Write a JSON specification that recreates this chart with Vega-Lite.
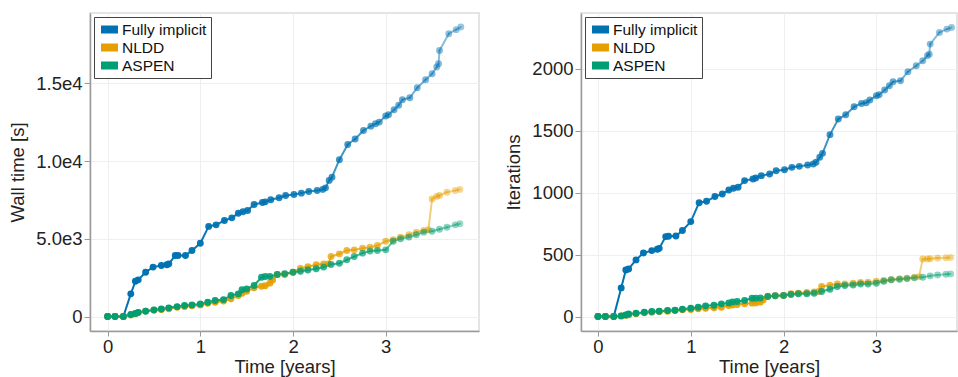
{
  "$schema": "https://vega.github.io/schema/vega-lite/v6.json",
  "autosize": {"type": "pad"},
  "padding": {"left": 7, "top": 12, "right": 0, "bottom": 0},
  "bounds": "flush",
  "spacing": 102,
  "datasets": {
    "runs": [
      {"method":"Fully implicit","t":0,"wall":0,"iter":0},
      {"method":"Fully implicit","t":0.08,"wall":0,"iter":0},
      {"method":"Fully implicit","t":0.17,"wall":0,"iter":0},
      {"method":"Fully implicit","t":0.25,"wall":1460,"iter":231},
      {"method":"Fully implicit","t":0.30,"wall":2270,"iter":376},
      {"method":"Fully implicit","t":0.33,"wall":2360,"iter":384},
      {"method":"Fully implicit","t":0.41,"wall":2850,"iter":457},
      {"method":"Fully implicit","t":0.49,"wall":3180,"iter":513},
      {"method":"Fully implicit","t":0.58,"wall":3280,"iter":532},
      {"method":"Fully implicit","t":0.64,"wall":3330,"iter":543},
      {"method":"Fully implicit","t":0.66,"wall":3390,"iter":550},
      {"method":"Fully implicit","t":0.73,"wall":3930,"iter":645},
      {"method":"Fully implicit","t":0.76,"wall":3930,"iter":648},
      {"method":"Fully implicit","t":0.84,"wall":3930,"iter":650},
      {"method":"Fully implicit","t":0.91,"wall":4250,"iter":694},
      {"method":"Fully implicit","t":1.0,"wall":4720,"iter":766},
      {"method":"Fully implicit","t":1.09,"wall":5800,"iter":919},
      {"method":"Fully implicit","t":1.17,"wall":5900,"iter":930},
      {"method":"Fully implicit","t":1.26,"wall":6180,"iter":968},
      {"method":"Fully implicit","t":1.34,"wall":6350,"iter":989},
      {"method":"Fully implicit","t":1.41,"wall":6650,"iter":1021},
      {"method":"Fully implicit","t":1.46,"wall":6740,"iter":1035},
      {"method":"Fully implicit","t":1.51,"wall":6820,"iter":1043},
      {"method":"Fully implicit","t":1.58,"wall":7210,"iter":1097},
      {"method":"Fully implicit","t":1.67,"wall":7340,"iter":1110},
      {"method":"Fully implicit","t":1.70,"wall":7380,"iter":1118},
      {"method":"Fully implicit","t":1.76,"wall":7510,"iter":1137},
      {"method":"Fully implicit","t":1.85,"wall":7640,"iter":1150},
      {"method":"Fully implicit","t":1.92,"wall":7790,"iter":1177},
      {"method":"Fully implicit","t":2.01,"wall":7850,"iter":1185},
      {"method":"Fully implicit","t":2.09,"wall":7940,"iter":1204},
      {"method":"Fully implicit","t":2.17,"wall":8050,"iter":1212},
      {"method":"Fully implicit","t":2.26,"wall":8110,"iter":1223},
      {"method":"Fully implicit","t":2.32,"wall":8180,"iter":1231},
      {"method":"Fully implicit","t":2.35,"wall":8280,"iter":1245},
      {"method":"Fully implicit","t":2.39,"wall":8760,"iter":1285},
      {"method":"Fully implicit","t":2.42,"wall":8970,"iter":1317},
      {"method":"Fully implicit","t":2.50,"wall":10090,"iter":1468},
      {"method":"Fully implicit","t":2.59,"wall":11070,"iter":1594},
      {"method":"Fully implicit","t":2.67,"wall":11420,"iter":1629},
      {"method":"Fully implicit","t":2.76,"wall":11970,"iter":1693},
      {"method":"Fully implicit","t":2.84,"wall":12250,"iter":1720},
      {"method":"Fully implicit","t":2.89,"wall":12400,"iter":1725},
      {"method":"Fully implicit","t":2.93,"wall":12510,"iter":1747},
      {"method":"Fully implicit","t":3.0,"wall":12900,"iter":1782},
      {"method":"Fully implicit","t":3.03,"wall":12980,"iter":1790},
      {"method":"Fully implicit","t":3.09,"wall":13300,"iter":1828},
      {"method":"Fully implicit","t":3.14,"wall":13600,"iter":1863},
      {"method":"Fully implicit","t":3.18,"wall":13950,"iter":1895},
      {"method":"Fully implicit","t":3.26,"wall":14080,"iter":1903},
      {"method":"Fully implicit","t":3.34,"wall":14720,"iter":1976},
      {"method":"Fully implicit","t":3.43,"wall":15240,"iter":2024},
      {"method":"Fully implicit","t":3.50,"wall":15620,"iter":2064},
      {"method":"Fully implicit","t":3.55,"wall":16050,"iter":2105},
      {"method":"Fully implicit","t":3.57,"wall":16270,"iter":2118},
      {"method":"Fully implicit","t":3.58,"wall":17120,"iter":2199},
      {"method":"Fully implicit","t":3.68,"wall":18200,"iter":2293},
      {"method":"Fully implicit","t":3.76,"wall":18460,"iter":2320},
      {"method":"Fully implicit","t":3.81,"wall":18630,"iter":2333},

      {"method":"NLDD","t":0,"wall":0,"iter":0},
      {"method":"NLDD","t":0.08,"wall":0,"iter":0},
      {"method":"NLDD","t":0.17,"wall":0,"iter":0},
      {"method":"NLDD","t":0.25,"wall":100,"iter":5},
      {"method":"NLDD","t":0.30,"wall":180,"iter":10},
      {"method":"NLDD","t":0.33,"wall":250,"iter":13},
      {"method":"NLDD","t":0.41,"wall":350,"iter":22},
      {"method":"NLDD","t":0.5,"wall":400,"iter":30},
      {"method":"NLDD","t":0.58,"wall":450,"iter":35},
      {"method":"NLDD","t":0.66,"wall":500,"iter":40},
      {"method":"NLDD","t":0.75,"wall":600,"iter":43},
      {"method":"NLDD","t":0.83,"wall":640,"iter":48},
      {"method":"NLDD","t":0.91,"wall":700,"iter":54},
      {"method":"NLDD","t":1.0,"wall":750,"iter":56},
      {"method":"NLDD","t":1.08,"wall":850,"iter":62},
      {"method":"NLDD","t":1.16,"wall":920,"iter":67},
      {"method":"NLDD","t":1.25,"wall":1000,"iter":70},
      {"method":"NLDD","t":1.33,"wall":1140,"iter":75},
      {"method":"NLDD","t":1.41,"wall":1350,"iter":89},
      {"method":"NLDD","t":1.45,"wall":1500,"iter":93},
      {"method":"NLDD","t":1.5,"wall":1620,"iter":97},
      {"method":"NLDD","t":1.58,"wall":1850,"iter":102},
      {"method":"NLDD","t":1.66,"wall":1950,"iter":108},
      {"method":"NLDD","t":1.7,"wall":1980,"iter":110},
      {"method":"NLDD","t":1.75,"wall":2150,"iter":116},
      {"method":"NLDD","t":1.78,"wall":2350,"iter":134},
      {"method":"NLDD","t":1.83,"wall":2700,"iter":164},
      {"method":"NLDD","t":1.91,"wall":2700,"iter":167},
      {"method":"NLDD","t":2.0,"wall":2850,"iter":170},
      {"method":"NLDD","t":2.08,"wall":3100,"iter":183},
      {"method":"NLDD","t":2.16,"wall":3200,"iter":188},
      {"method":"NLDD","t":2.25,"wall":3330,"iter":194},
      {"method":"NLDD","t":2.33,"wall":3390,"iter":199},
      {"method":"NLDD","t":2.38,"wall":3390,"iter":202},
      {"method":"NLDD","t":2.41,"wall":3860,"iter":242},
      {"method":"NLDD","t":2.5,"wall":4030,"iter":253},
      {"method":"NLDD","t":2.58,"wall":4250,"iter":263},
      {"method":"NLDD","t":2.66,"wall":4290,"iter":263},
      {"method":"NLDD","t":2.75,"wall":4400,"iter":269},
      {"method":"NLDD","t":2.83,"wall":4460,"iter":274},
      {"method":"NLDD","t":2.91,"wall":4570,"iter":277},
      {"method":"NLDD","t":3.0,"wall":4850,"iter":285},
      {"method":"NLDD","t":3.08,"wall":4940,"iter":290},
      {"method":"NLDD","t":3.16,"wall":5110,"iter":296},
      {"method":"NLDD","t":3.25,"wall":5260,"iter":304},
      {"method":"NLDD","t":3.33,"wall":5430,"iter":309},
      {"method":"NLDD","t":3.41,"wall":5540,"iter":317},
      {"method":"NLDD","t":3.46,"wall":5580,"iter":322},
      {"method":"NLDD","t":3.5,"wall":7570,"iter":465},
      {"method":"NLDD","t":3.55,"wall":7730,"iter":465},
      {"method":"NLDD","t":3.58,"wall":7790,"iter":466},
      {"method":"NLDD","t":3.66,"wall":8000,"iter":473},
      {"method":"NLDD","t":3.75,"wall":8110,"iter":474},
      {"method":"NLDD","t":3.8,"wall":8180,"iter":476},

      {"method":"ASPEN","t":0,"wall":0,"iter":0},
      {"method":"ASPEN","t":0.08,"wall":0,"iter":0},
      {"method":"ASPEN","t":0.17,"wall":0,"iter":0},
      {"method":"ASPEN","t":0.25,"wall":130,"iter":5},
      {"method":"ASPEN","t":0.30,"wall":200,"iter":12},
      {"method":"ASPEN","t":0.33,"wall":270,"iter":20},
      {"method":"ASPEN","t":0.41,"wall":340,"iter":27},
      {"method":"ASPEN","t":0.5,"wall":430,"iter":35},
      {"method":"ASPEN","t":0.58,"wall":490,"iter":40},
      {"method":"ASPEN","t":0.66,"wall":560,"iter":43},
      {"method":"ASPEN","t":0.75,"wall":640,"iter":48},
      {"method":"ASPEN","t":0.83,"wall":710,"iter":50},
      {"method":"ASPEN","t":0.91,"wall":750,"iter":59},
      {"method":"ASPEN","t":1.0,"wall":815,"iter":67},
      {"method":"ASPEN","t":1.08,"wall":920,"iter":75},
      {"method":"ASPEN","t":1.16,"wall":1030,"iter":86},
      {"method":"ASPEN","t":1.25,"wall":1090,"iter":91},
      {"method":"ASPEN","t":1.33,"wall":1350,"iter":102},
      {"method":"ASPEN","t":1.41,"wall":1460,"iter":110},
      {"method":"ASPEN","t":1.45,"wall":1720,"iter":118},
      {"method":"ASPEN","t":1.5,"wall":1780,"iter":121},
      {"method":"ASPEN","t":1.58,"wall":2000,"iter":129},
      {"method":"ASPEN","t":1.66,"wall":2530,"iter":148},
      {"method":"ASPEN","t":1.7,"wall":2580,"iter":148},
      {"method":"ASPEN","t":1.75,"wall":2580,"iter":150},
      {"method":"ASPEN","t":1.83,"wall":2700,"iter":161},
      {"method":"ASPEN","t":1.91,"wall":2750,"iter":167},
      {"method":"ASPEN","t":2.0,"wall":2850,"iter":170},
      {"method":"ASPEN","t":2.08,"wall":2920,"iter":177},
      {"method":"ASPEN","t":2.16,"wall":3000,"iter":183},
      {"method":"ASPEN","t":2.25,"wall":3070,"iter":183},
      {"method":"ASPEN","t":2.33,"wall":3180,"iter":188},
      {"method":"ASPEN","t":2.41,"wall":3350,"iter":202},
      {"method":"ASPEN","t":2.5,"wall":3430,"iter":220},
      {"method":"ASPEN","t":2.58,"wall":3650,"iter":242},
      {"method":"ASPEN","t":2.66,"wall":3860,"iter":250},
      {"method":"ASPEN","t":2.75,"wall":4080,"iter":255},
      {"method":"ASPEN","t":2.83,"wall":4210,"iter":263},
      {"method":"ASPEN","t":2.91,"wall":4250,"iter":263},
      {"method":"ASPEN","t":3.0,"wall":4290,"iter":269},
      {"method":"ASPEN","t":3.08,"wall":4850,"iter":285},
      {"method":"ASPEN","t":3.16,"wall":5000,"iter":296},
      {"method":"ASPEN","t":3.25,"wall":5110,"iter":301},
      {"method":"ASPEN","t":3.33,"wall":5260,"iter":306},
      {"method":"ASPEN","t":3.41,"wall":5430,"iter":312},
      {"method":"ASPEN","t":3.5,"wall":5490,"iter":317},
      {"method":"ASPEN","t":3.58,"wall":5620,"iter":328},
      {"method":"ASPEN","t":3.66,"wall":5750,"iter":336},
      {"method":"ASPEN","t":3.75,"wall":5900,"iter":341},
      {"method":"ASPEN","t":3.8,"wall":5970,"iter":344}
    ]
  },
  "data": {"name": "runs"},
  "hconcat": [
    {
      "width": 389,
      "height": 318,
      "layer": [
        {
          "transform": [
            {"window": [{"op": "lead", "field": "t", "as": "t2"}, {"op": "lead", "field": "wall", "as": "wall2"}],
             "groupby": ["method"], "sort": [{"field": "t", "order": "ascending"}]},
            {"filter": "isValid(datum.t2)"}
          ],
          "mark": {"type": "rule", "strokeWidth": 2, "strokeCap": "round"},
          "encoding": {
            "x": {"field": "t", "type": "quantitative", "title": "Time [years]",
                  "scale": {"domain": [-0.19, 4.006], "nice": false, "zero": false},
                  "axis": {"values": [0, 1, 2, 3], "format": "d"}},
            "x2": {"field": "t2"},
            "y": {"field": "wall", "type": "quantitative", "title": "Wall time [s]",
                  "scale": {"domain": [-930, 19530], "nice": false, "zero": false},
                  "axis": {"values": [0, 5000, 10000, 15000],
                           "labelExpr": "datum.value == 0 ? '0' : replace(format(datum.value, '.1e'), '+', '')"}},
            "y2": {"field": "wall2"},
            "stroke": {"field": "method", "type": "nominal",
                       "scale": {"domain": ["Fully implicit", "NLDD", "ASPEN"], "range": ["#0072b2", "#e69f00", "#009e73"]},
                       "legend": {"title": null, "orient": "top-left", "offset": 4, "padding": 4,
                                  "symbolType": "M-1,-0.47H1V0.47H-1Z", "symbolSize": 289,
                                  "symbolStrokeWidth": 0, "symbolOpacity": 1, "symbolOffset": 3,
                                  "labelFont": "Liberation Sans", "labelFontSize": 15.5, "labelColor": "#111111",
                                  "labelOffset": 4, "rowPadding": 1, "labelLimit": 300,
                                  "fillColor": "white", "strokeColor": "#444444"}},
            "opacity": {"field": "t", "type": "quantitative",
                        "scale": {"type": "pow", "exponent": 2, "domain": [0, 3.81], "range": [1, 0.4]},
                        "legend": null}
          }
        },
        {
          "mark": {"type": "circle", "size": 48},
          "encoding": {
            "x": {"field": "t", "type": "quantitative"},
            "y": {"field": "wall", "type": "quantitative"},
            "fill": {"field": "method", "type": "nominal",
                     "scale": {"domain": ["Fully implicit", "NLDD", "ASPEN"], "range": ["#0072b2", "#e69f00", "#009e73"]},
                     "legend": {"title": null, "orient": "top-left", "offset": 4, "padding": 4,
                                "symbolType": "M-1,-0.47H1V0.47H-1Z", "symbolSize": 289,
                                "symbolStrokeWidth": 0, "symbolOpacity": 1, "symbolOffset": 3,
                                "labelFont": "Liberation Sans", "labelFontSize": 15.5, "labelColor": "#111111",
                                "labelOffset": 4, "rowPadding": 1, "labelLimit": 300,
                                "fillColor": "white", "strokeColor": "#444444"}},
            "opacity": {"field": "t", "type": "quantitative",
                        "scale": {"type": "pow", "exponent": 2, "domain": [0, 3.81], "range": [1, 0.4]},
                        "legend": null}
          }
        }
      ]
    },
    {
      "width": 376,
      "height": 318,
      "layer": [
        {
          "transform": [
            {"window": [{"op": "lead", "field": "t", "as": "t2"}, {"op": "lead", "field": "iter", "as": "iter2"}],
             "groupby": ["method"], "sort": [{"field": "t", "order": "ascending"}]},
            {"filter": "isValid(datum.t2)"}
          ],
          "mark": {"type": "rule", "strokeWidth": 2, "strokeCap": "round"},
          "encoding": {
            "x": {"field": "t", "type": "quantitative", "title": "Time [years]",
                  "scale": {"domain": [-0.183, 3.869], "nice": false, "zero": false},
                  "axis": {"values": [0, 1, 2, 3], "format": "d"}},
            "x2": {"field": "t2"},
            "y": {"field": "iter", "type": "quantitative", "title": "Iterations",
                  "scale": {"domain": [-117, 2450], "nice": false, "zero": false},
                  "axis": {"values": [0, 500, 1000, 1500, 2000], "format": "d"}},
            "y2": {"field": "iter2"},
            "stroke": {"field": "method", "type": "nominal",
                       "scale": {"domain": ["Fully implicit", "NLDD", "ASPEN"], "range": ["#0072b2", "#e69f00", "#009e73"]},
                       "legend": {"title": null, "orient": "top-left", "offset": 4, "padding": 4,
                                  "symbolType": "M-1,-0.47H1V0.47H-1Z", "symbolSize": 289,
                                  "symbolStrokeWidth": 0, "symbolOpacity": 1, "symbolOffset": 3,
                                  "labelFont": "Liberation Sans", "labelFontSize": 15.5, "labelColor": "#111111",
                                  "labelOffset": 4, "rowPadding": 1, "labelLimit": 300,
                                  "fillColor": "white", "strokeColor": "#444444"}},
            "opacity": {"field": "t", "type": "quantitative",
                        "scale": {"type": "pow", "exponent": 2, "domain": [0, 3.81], "range": [1, 0.4]},
                        "legend": null}
          }
        },
        {
          "mark": {"type": "circle", "size": 48},
          "encoding": {
            "x": {"field": "t", "type": "quantitative"},
            "y": {"field": "iter", "type": "quantitative"},
            "fill": {"field": "method", "type": "nominal",
                     "scale": {"domain": ["Fully implicit", "NLDD", "ASPEN"], "range": ["#0072b2", "#e69f00", "#009e73"]},
                     "legend": {"title": null, "orient": "top-left", "offset": 4, "padding": 4,
                                "symbolType": "M-1,-0.47H1V0.47H-1Z", "symbolSize": 289,
                                "symbolStrokeWidth": 0, "symbolOpacity": 1, "symbolOffset": 3,
                                "labelFont": "Liberation Sans", "labelFontSize": 15.5, "labelColor": "#111111",
                                "labelOffset": 4, "rowPadding": 1, "labelLimit": 300,
                                "fillColor": "white", "strokeColor": "#444444"}},
            "opacity": {"field": "t", "type": "quantitative",
                        "scale": {"type": "pow", "exponent": 2, "domain": [0, 3.81], "range": [1, 0.4]},
                        "legend": null}
          }
        }
      ]
    }
  ],
  "resolve": {
    "scale": {"x": "independent", "y": "independent", "fill": "independent", "stroke": "independent", "opacity": "independent"},
    "axis": {"x": "independent", "y": "independent"},
    "legend": {"fill": "independent", "stroke": "independent"}
  },
  "config": {
    "background": "white",
    "view": {"stroke": "#dcdcdc", "strokeWidth": 1.5},
    "axis": {
      "labelFont": "Liberation Sans", "titleFont": "Liberation Sans",
      "labelFontSize": 18.5, "titleFontSize": 18.5, "titleFontWeight": "normal",
      "labelColor": "#222222", "titleColor": "#222222",
      "domainColor": "#9a9a9a", "domainWidth": 1.5,
      "tickColor": "#9a9a9a", "tickWidth": 1,
      "gridColor": "#efefef", "gridWidth": 1
    },
    "axisX": {"tickSize": 5, "labelPadding": 1, "titlePadding": 2},
    "axisY": {"tickSize": 6, "labelPadding": 2, "titlePadding": 8}
  }
}
